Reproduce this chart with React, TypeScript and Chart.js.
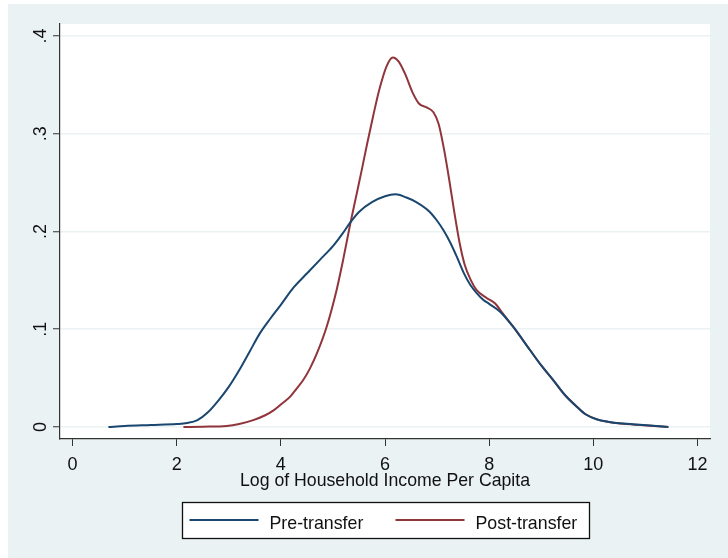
import React, { useEffect, useRef } from "react";
import { Chart, registerables } from "chart.js";

Chart.register(...registerables);

// ---- data ----
const preX = [0.69, 1.0, 1.5, 2.0, 2.2, 2.4, 2.6, 2.8, 3.0, 3.2, 3.4, 3.6, 3.8, 4.0, 4.25, 4.5, 4.75, 5.0, 5.2, 5.33, 5.5, 5.75, 6.0, 6.2, 6.4, 6.6, 6.86, 7.0, 7.12, 7.25, 7.38, 7.5, 7.63, 7.76, 7.89, 8.0, 8.21, 8.46, 8.78, 9.0, 9.23, 9.45, 9.68, 9.85, 10.06, 10.3, 10.51, 10.96, 11.44];
const preY = [0.0, 0.001, 0.002, 0.003, 0.004, 0.007, 0.015, 0.027, 0.041, 0.058, 0.077, 0.096, 0.111, 0.125, 0.143, 0.157, 0.171, 0.185, 0.199, 0.209, 0.22, 0.23, 0.236, 0.238, 0.235, 0.23, 0.22, 0.211, 0.2015, 0.189, 0.174, 0.159, 0.146, 0.137, 0.13, 0.126, 0.118, 0.1026, 0.079, 0.063, 0.048, 0.033, 0.0208, 0.013, 0.0079, 0.0052, 0.0038, 0.002, 0.0];

const postX = [2.13, 2.5, 2.96, 3.2, 3.47, 3.7, 3.86, 4.0, 4.18, 4.3, 4.43, 4.56, 4.69, 4.88, 5.07, 5.2, 5.33, 5.45, 5.55, 5.65, 5.78, 5.9, 6.03, 6.15, 6.26, 6.38, 6.54, 6.65, 6.8, 6.93, 7.03, 7.13, 7.23, 7.33, 7.43, 7.53, 7.65, 7.76, 7.95, 8.11, 8.25, 8.46, 8.78, 9.0, 9.23, 9.45, 9.68, 9.85, 10.06, 10.3, 10.51, 10.96, 11.44];
const postY = [0.0, 0.0003, 0.001, 0.003, 0.007, 0.012, 0.017, 0.023, 0.031, 0.039, 0.048, 0.06, 0.075, 0.1026, 0.14, 0.172, 0.207, 0.237, 0.262, 0.288, 0.32, 0.347, 0.369, 0.378, 0.374, 0.362, 0.341, 0.331, 0.327, 0.322, 0.31, 0.285, 0.254, 0.22, 0.189, 0.166, 0.15, 0.14, 0.132, 0.1265, 0.117, 0.1026, 0.079, 0.063, 0.048, 0.033, 0.021, 0.013, 0.008, 0.005, 0.0035, 0.0018, 0.0];

const seriesLabels = ["Pre-transfer", "Post-transfer"];
const xTickValues = [0, 2, 4, 6, 8, 10, 12];
const yTickValues = [0, 0.1, 0.2, 0.3, 0.4];
const yTickLabels = ["0", ".1", ".2", ".3", ".4"];
const xAxisTitle = "Log of Household Income Per Capita";

// ---- styles ----
const FONT = '"Liberation Sans", Arial, sans-serif';
const BG = "#eaf2f3";
const NAVY = "#1a476f";
const MAROON = "#90353b";
const INK = "#111111";
const AXIS = "#333333";

const backgroundPlugin = {
  id: "stataBackground",
  beforeDraw(chart: any) {
    const { ctx, width, height, chartArea } = chart;
    ctx.save();
    ctx.fillStyle = "#ffffff";
    ctx.fillRect(0, 0, width, height);
    ctx.fillStyle = BG;
    ctx.fillRect(8, 4, width - 8, height - 4);
    ctx.fillStyle = "#ffffff";
    ctx.fillRect(chartArea.left, chartArea.top, chartArea.right - chartArea.left, chartArea.bottom - chartArea.top);
    ctx.restore();
  },
};

const yLabelPlugin = {
  id: "rotatedYLabels",
  afterDraw(chart: any) {
    const y = chart.scales.y;
    const ctx = chart.ctx;
    ctx.save();
    ctx.fillStyle = INK;
    ctx.font = `18px ${FONT}`;
    ctx.textAlign = "center";
    ctx.textBaseline = "alphabetic";
    yTickValues.forEach((v, i) => {
      const py = y.getPixelForValue(v);
      ctx.save();
      ctx.translate(y.right - 14, py);
      ctx.rotate(-Math.PI / 2);
      ctx.fillText(yTickLabels[i], 0, 0);
      ctx.restore();
    });
    ctx.restore();
  },
};

const legendPlugin = {
  id: "boxedLegend",
  afterDraw(chart: any) {
    const { ctx, chartArea } = chart;
    const cx = (chartArea.left + chartArea.right) / 2;
    const boxW = 407;
    const boxH = 36;
    const boxTop = 502;
    const left = Math.round(cx - boxW / 2) + 0.5;
    ctx.save();
    ctx.fillStyle = "#ffffff";
    ctx.fillRect(left, boxTop + 0.5, boxW, boxH);
    ctx.strokeStyle = "#111111";
    ctx.lineWidth = 1.3;
    ctx.strokeRect(left, boxTop + 0.5, boxW, boxH);
    const itemOffsets = [7, 213];
    const lineLen = 69;
    const rowY = boxTop + 18;
    ctx.font = `17.8px ${FONT}`;
    ctx.textBaseline = "alphabetic";
    ctx.textAlign = "left";
    chart.data.datasets.forEach((ds: any, i: number) => {
      const x0 = left + itemOffsets[i];
      ctx.strokeStyle = ds.borderColor;
      ctx.lineWidth = 2;
      ctx.beginPath();
      ctx.moveTo(x0, rowY);
      ctx.lineTo(x0 + lineLen, rowY);
      ctx.stroke();
      ctx.fillStyle = INK;
      ctx.fillText(ds.label, x0 + lineLen + 11, rowY + 8.5);
    });
    ctx.restore();
  },
};

export default function App() {
  const canvasRef = useRef<HTMLCanvasElement | null>(null);

  useEffect(() => {
    if (!canvasRef.current) return;
    Chart.defaults.font.family = FONT;
    const chart = new Chart(canvasRef.current, {
      type: "line",
      data: {
        datasets: [
          {
            label: seriesLabels[0],
            data: preX.map((x, i) => ({ x, y: preY[i] })),
            borderColor: NAVY,
            backgroundColor: NAVY,
            borderWidth: 2,
            pointRadius: 0,
            cubicInterpolationMode: "monotone",
            fill: false,
          },
          {
            label: seriesLabels[1],
            data: postX.map((x, i) => ({ x, y: postY[i] })),
            borderColor: MAROON,
            backgroundColor: MAROON,
            borderWidth: 2,
            pointRadius: 0,
            cubicInterpolationMode: "monotone",
            fill: false,
          },
        ],
      },
      options: {
        responsive: false,
        animation: false,
        devicePixelRatio: 1,
        layout: { padding: { left: 0, top: 24, right: 18, bottom: 0 } },
        plugins: {
          legend: { display: false },
          tooltip: { enabled: false },
          title: { display: false },
        },
        scales: {
          x: {
            type: "linear",
            min: -0.24,
            max: 12.24,
            afterBuildTicks: (scale: any) => {
              scale.ticks = xTickValues.map((v) => ({ value: v }));
            },
            afterFit: (scale: any) => {
              scale.height = 119;
            },
            grid: {
              drawOnChartArea: false,
              drawTicks: true,
              tickLength: 7,
              tickColor: AXIS,
              tickWidth: 1,
            },
            border: { display: true, color: AXIS, width: 1.2 },
            ticks: {
              font: { size: 18, family: FONT },
              color: INK,
              padding: 8,
              maxRotation: 0,
              minRotation: 0,
              autoSkip: false,
              callback: (v: any) => String(v),
            },
            title: {
              display: true,
              text: xAxisTitle,
              font: { size: 17.7, family: FONT },
              color: INK,
              padding: { top: 0, bottom: 66 },
            },
          },
          y: {
            type: "linear",
            min: -0.0123,
            max: 0.4123,
            afterBuildTicks: (scale: any) => {
              scale.ticks = yTickValues.map((v) => ({ value: v }));
            },
            afterFit: (scale: any) => {
              scale.width = 60;
            },
            grid: {
              color: BG,
              lineWidth: 1.5,
              drawTicks: true,
              tickLength: 7,
              tickColor: AXIS,
              tickWidth: 1,
            },
            border: { display: true, color: AXIS, width: 1.2 },
            ticks: { display: false },
          },
        },
      },
      plugins: [backgroundPlugin, yLabelPlugin, legendPlugin],
    } as any);
    return () => chart.destroy();
  }, []);

  return (
    <div style={{ position: "absolute", left: 0, top: 0, width: 728, height: 558 }}>
      <canvas ref={canvasRef} width={728} height={558} style={{ display: "block" }} />
    </div>
  );
}
